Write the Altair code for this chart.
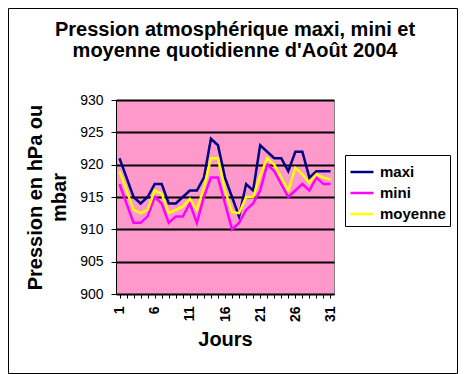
import altair as alt
import pandas as pd

days = list(range(1, 32))
maxi = [921, 918, 915, 914, 915, 917, 917, 914, 914, 915, 916, 916, 918, 924, 923,
        918, 915, 912, 917, 916, 923, 922, 921, 921, 919, 922, 922, 918, 919, 919, 919]
mini = [917, 914, 911, 911, 912, 915, 914, 911, 912, 912, 914, 911, 915, 918, 918,
        914, 910, 911, 913, 914, 916, 920, 919, 917, 915, 916, 917, 916, 918, 917, 917]
moyenne = [919, 916, 913, 912.5, 913, 916, 915.5, 912.5, 913, 913.5, 914.7, 913, 916.4, 921, 921,
           916, 912.7, 912.5, 915, 915, 918.3, 921, 920, 918, 916, 919.5, 918.5, 917.2, 918.5, 918, 917.7]
series_names = ["maxi", "mini", "moyenne"]
series_colors = ["#000080", "#FF00FF", "#FFFF00"]
y_ticks = [900, 905, 910, 915, 920, 925, 930]
title_lines = ["Pression atmosphérique maxi, mini et", "moyenne quotidienne d'Août 2004"]
y_title = ["Pression en hPa ou", "mbar"]
x_title = "Jours"

rows = []
for k, (name, vals) in enumerate(zip(series_names, [maxi, mini, moyenne])):
    for d, v in zip(days, vals):
        rows.append({"Jour": d, "Serie": name, "Pression": v, "ordre": k})
df = pd.DataFrame(rows)

FONT = "Liberation Sans"

lines = alt.Chart(df).mark_line(strokeWidth=2.5).encode(
    x=alt.X("Jour:Q",
            scale=alt.Scale(domain=[0.5, 31.5], nice=False, zero=False),
            axis=alt.Axis(values=days,
                          labelExpr="(datum.value - 1) % 5 == 0 ? datum.label : ''",
                          labelAngle=270, labelAlign="right", labelBaseline="middle",
                          labelPadding=8, labelFontSize=14, labelFontWeight="bold",
                          labelFont=FONT, labelColor="black",
                          tickSize=4, tickColor="black", domainColor="black",
                          grid=False, title=x_title, titleFont=FONT, titleFontSize=20,
                          titleFontWeight="bold", titleColor="black", titlePadding=8)),
    y=alt.Y("Pression:Q",
            scale=alt.Scale(domain=[900, 930], nice=False, zero=False),
            axis=alt.Axis(values=y_ticks, grid=True, gridColor="black", gridWidth=2,
                          labelFontSize=14, labelFont=FONT, labelColor="black", labelPadding=8,
                          tickSize=5, tickColor="black", domainColor="black",
                          title=y_title, titleFont=FONT, titleFontSize=20,
                          titleFontWeight="bold", titleColor="black", titlePadding=10,
                          titleLineHeight=24)),
    color=alt.Color("Serie:N",
                    scale=alt.Scale(domain=series_names, range=series_colors),
                    legend=alt.Legend(title=None, orient="none", legendX=229, legendY=55,
                                      symbolType="stroke", symbolSize=529, symbolStrokeWidth=2.5,
                                      labelFont=FONT, labelFontSize=15, labelFontWeight="bold",
                                      labelColor="black",
                                      rowPadding=0, padding=4, strokeColor="black",
                                      fillColor="white", labelOffset=5)),
    order=alt.Order("ordre:Q"),
)

title = alt.Chart(alt.Data(values=[{"a": 1}])).mark_text(
    text=title_lines, font=FONT, fontSize=20, fontWeight="bold", color="black",
    align="center", baseline="alphabetic", lineHeight=21
).encode(x=alt.value(119), y=alt.value(-64))

border = alt.Chart(alt.Data(values=[{"a": 1}])).mark_rect(
    fill="transparent", stroke="black", strokeWidth=1
).encode(
    x=alt.value(-107.5), x2=alt.value(341.5), y=alt.value(-91.5), y2=alt.value(273.5)
)

chart = alt.layer(border, title, lines).properties(
    width=218, height=194,
    autosize=alt.AutoSizeParams(type="none"),
    padding={"left": 108, "top": 92, "right": 124, "bottom": 80},
    background="white",
).configure_view(fill="#FF99CC", stroke="#808080", strokeWidth=1)

chart.save("out.html", embed_options={"renderer": "svg", "actions": False})
